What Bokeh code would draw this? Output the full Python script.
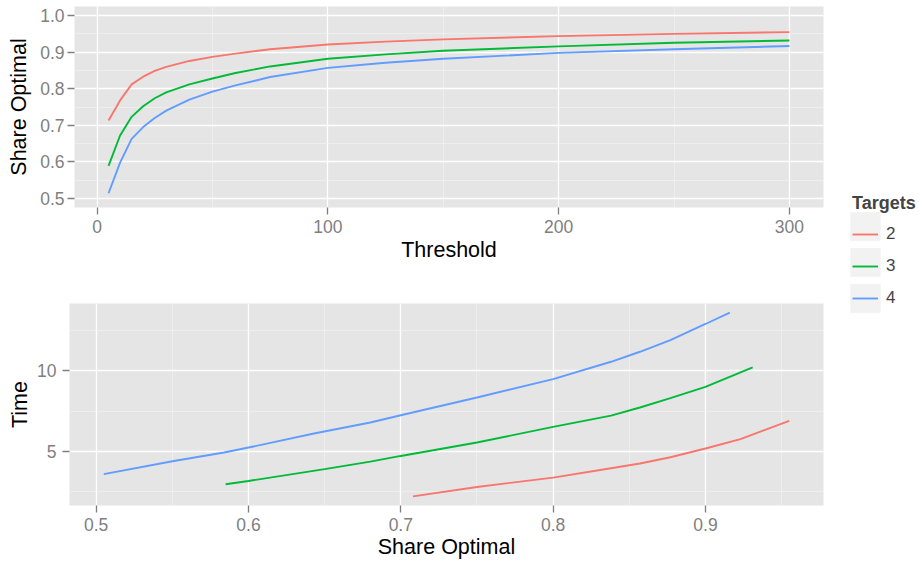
from bokeh.plotting import figure
from bokeh.layouts import column, row
from bokeh.models import Range1d, FixedTicker, PrintfTickFormatter, Legend, LegendItem
from bokeh.embed import file_html
from bokeh.resources import INLINE

# ---------------- data ----------------
targets = ["2", "3", "4"]
colors = ["#F8766D", "#00BA38", "#619CFF"]

threshold = [5, 10, 15, 20, 25, 30, 40, 50, 60, 75, 100, 125, 150, 200, 250, 300]
share_t2 = [0.713, 0.768, 0.812, 0.833, 0.849, 0.860, 0.876, 0.887, 0.896, 0.908, 0.921, 0.929, 0.935, 0.944, 0.950, 0.955]
share_t3 = [0.589, 0.672, 0.723, 0.752, 0.774, 0.790, 0.812, 0.828, 0.843, 0.861, 0.882, 0.894, 0.904, 0.916, 0.926, 0.932]
share_t4 = [0.514, 0.598, 0.663, 0.695, 0.720, 0.740, 0.770, 0.792, 0.809, 0.832, 0.857, 0.871, 0.882, 0.898, 0.908, 0.917]

share_b2 = [0.708, 0.750, 0.800, 0.838, 0.857, 0.877, 0.900, 0.923, 0.955]
time_b2 = [2.23, 2.81, 3.39, 3.97, 4.26, 4.65, 5.19, 5.77, 6.90]
share_b3 = [0.585, 0.600, 0.650, 0.680, 0.700, 0.750, 0.800, 0.838, 0.857, 0.877, 0.900, 0.931]
time_b3 = [2.98, 3.18, 3.91, 4.38, 4.73, 5.56, 6.53, 7.23, 7.73, 8.31, 9.01, 10.21]
share_b4 = [0.505, 0.551, 0.584, 0.600, 0.643, 0.680, 0.700, 0.750, 0.800, 0.838, 0.857, 0.877, 0.900, 0.916]
time_b4 = [3.60, 4.42, 4.94, 5.25, 6.12, 6.80, 7.25, 8.35, 9.49, 10.56, 11.18, 11.90, 12.90, 13.60]

top_x_ticks = [0, 100, 200, 300]
top_x_minor = [50, 150, 250]
top_y_ticks = [0.5, 0.6, 0.7, 0.8, 0.9, 1.0]
top_y_minor = [0.55, 0.65, 0.75, 0.85, 0.95]
top_y_limits = [0.5, 1.0]
bot_x_ticks = [0.5, 0.6, 0.7, 0.8, 0.9]
bot_x_minor = [0.55, 0.65, 0.75, 0.85, 0.95]
bot_y_ticks = [5, 10]
bot_y_minor = [2.5, 7.5, 12.5]

FONT = "Liberation Sans"


def expand(lo, hi, f=0.05):
    d = (hi - lo) * f
    return lo - d, hi + d


def style(p, xt, xm, yt, ym, xfmt, yfmt, xlab_standoff, ytick_standoff, ylab_standoff):
    p.background_fill_color = "#E5E5E5"
    p.border_fill_color = "white"
    p.outline_line_color = None
    p.xaxis.ticker = FixedTicker(ticks=xt, minor_ticks=xm)
    p.yaxis.ticker = FixedTicker(ticks=yt, minor_ticks=ym)
    p.xaxis.formatter = PrintfTickFormatter(format=xfmt)
    p.yaxis.formatter = PrintfTickFormatter(format=yfmt)
    for ax in p.axis:
        ax.axis_line_color = None
        ax.major_tick_line_color = "#7F7F7F"
        ax.major_tick_line_width = 1.3
        ax.major_tick_out = 7
        ax.major_tick_in = 0
        ax.minor_tick_line_color = None
        ax.major_label_text_color = "#7F7F7F"
        ax.major_label_text_font = FONT
        ax.major_label_text_font_size = "17.5px"
        ax.axis_label_text_font = FONT
        ax.axis_label_text_font_size = "21.5px"
        ax.axis_label_text_font_style = "normal"
        ax.axis_label_text_color = "black"
    p.xaxis.major_label_standoff = 5
    p.xaxis.axis_label_standoff = xlab_standoff
    p.yaxis.major_label_standoff = ytick_standoff
    p.yaxis.axis_label_standoff = ylab_standoff
    for g in p.grid:
        g.grid_line_color = "white"
        g.grid_line_width = 1.3
        g.minor_grid_line_color = "#F2F2F2"
        g.minor_grid_line_width = 0.7


# ---------------- top panel ----------------
p1 = figure(width=835, height=282, output_backend="svg", toolbar_location=None,
            x_range=Range1d(*expand(min(threshold), max(threshold))),
            y_range=Range1d(*expand(*top_y_limits)),
            x_axis_label="Threshold", y_axis_label="Share Optimal",
            min_border_left=74, min_border_right=12, min_border_top=6, min_border_bottom=75)
style(p1, top_x_ticks, top_x_minor, top_y_ticks, top_y_minor, "%d", "%.1f", 2, 3, 6)
for ys, c in zip([share_t2, share_t3, share_t4], colors):
    p1.line(threshold, ys, line_color=c, line_width=1.9)

# ---------------- bottom panel ----------------
all_s = share_b2 + share_b3 + share_b4
all_t = time_b2 + time_b3 + time_b4
p2 = figure(width=835, height=282, output_backend="svg", toolbar_location=None,
            x_range=Range1d(*expand(min(all_s), max(all_s))),
            y_range=Range1d(*expand(min(all_t), max(all_t))),
            x_axis_label="Share Optimal", y_axis_label="Time",
            min_border_left=69, min_border_right=12, min_border_top=21, min_border_bottom=59)
style(p2, bot_x_ticks, bot_x_minor, bot_y_ticks, bot_y_minor, "%.1f", "%d", 1, 6, 2)
for xs, ys, c in zip([share_b2, share_b3, share_b4], [time_b2, time_b3, time_b4], colors):
    p2.line(xs, ys, line_color=c, line_width=1.9)

# ---------------- legend panel ----------------
# legend-only renderers: their data lie outside this panel's (0, 1) ranges
pl = figure(width=84, height=564, output_backend="svg", toolbar_location=None,
            x_range=Range1d(0, 1), y_range=Range1d(0, 1),
            x_axis_location=None, y_axis_location=None,
            min_border_left=0, min_border_right=0,
            min_border_top=0, min_border_bottom=0)
pl.outline_line_color = None
pl.grid.visible = False
box_items = []
line_items = []
for t, c, ys in zip(targets, colors, [share_t2, share_t3, share_t4]):
    box = pl.quad(left=threshold[:1], right=threshold[-1:], bottom=ys[:1], top=ys[-1:],
                  fill_color="#F2F2F2", line_color=None)
    ln = pl.line(threshold, ys, line_color=c, line_width=1.9)
    box_items.append(LegendItem(label=" ", renderers=[box]))
    line_items.append(LegendItem(label=t, renderers=[ln]))

# key backgrounds (grey squares), no title and blank labels
leg_boxes = Legend(items=box_items, location=(11, 248), glyph_width=38, glyph_height=36,
                   spacing=-4, label_standoff=0, label_text_font_size="10px", label_text_alpha=0,
                   padding=0, margin=0, border_line_color=None, background_fill_alpha=0)
# key lines + labels + title
leg_lines = Legend(items=line_items, location=(17, 250), glyph_width=26, glyph_height=32,
                   spacing=0, label_standoff=8, title="Targets", title_text_font=FONT,
                   title_text_font_style="bold", title_text_font_size="18px",
                   label_text_font=FONT, label_text_font_size="17px",
                   padding=0, margin=0, title_standoff=4,
                   border_line_color=None, background_fill_alpha=0)
pl.add_layout(leg_boxes)
pl.add_layout(leg_lines)

layout = row(column(row(p1), row(p2)), pl)
open("out.html", "w").write(file_html(layout, INLINE))
